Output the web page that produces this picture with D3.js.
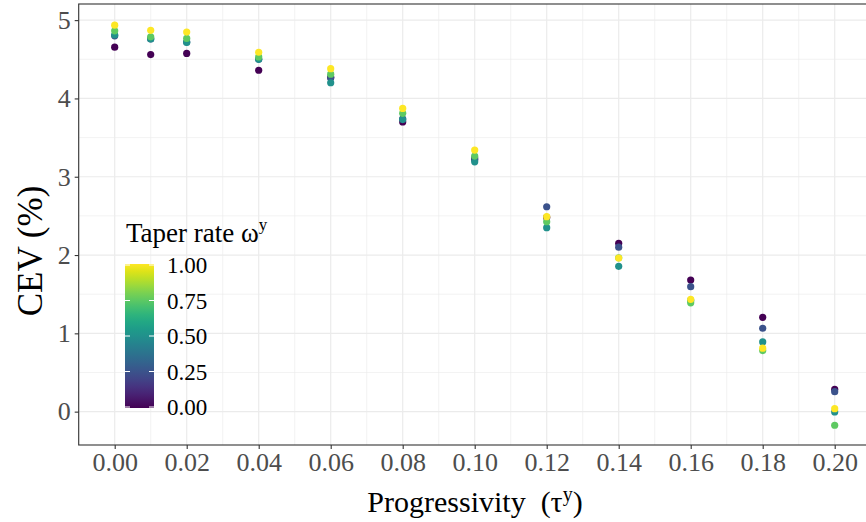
<!DOCTYPE html>
<html>
<head>
<meta charset="utf-8">
<script src="https://cdn.jsdelivr.net/npm/d3@7"></script>
<style>
  html, body { margin: 0; padding: 0; background: #fff; }
  svg { display: block; }
  text { font-family: "Liberation Serif", "DejaVu Serif", serif; }
</style>
</head>
<body>
<svg id="chart" width="866" height="522"></svg>
<script>
// ---- data ----
const tau = [0, 0.01, 0.02, 0.04, 0.06, 0.08, 0.10, 0.12, 0.14, 0.16, 0.18, 0.20];
const omega = [0, 0.25, 0.5, 0.75, 1];
const cevW000 = [4.655, 4.56, 4.575, 4.36, 4.27, 3.70, 3.22, 2.48, 2.15, 1.68, 1.205, 0.286];
const cevW025 = [4.80, 4.76, 4.72, 4.50, 4.26, 3.74, 3.24, 2.617, 2.10, 1.596, 1.065, 0.255];
const cevW050 = [4.81, 4.76, 4.715, 4.50, 4.20, 3.73, 3.19, 2.35, 1.856, 1.42, 0.89, -0.004];
const cevW075 = [4.863, 4.787, 4.766, 4.53, 4.31, 3.81, 3.264, 2.425, 1.965, 1.39, 0.78, -0.174];
const cevW100 = [4.936, 4.87, 4.847, 4.59, 4.38, 3.873, 3.34, 2.49, 1.962, 1.435, 0.81, 0.038];
const seriesValues = [cevW000, cevW025, cevW050, cevW075, cevW100];
const xTicks = [0, 0.02, 0.04, 0.06, 0.08, 0.10, 0.12, 0.14, 0.16, 0.18, 0.20];
const xMinor = [-0.01, 0.01, 0.03, 0.05, 0.07, 0.09, 0.11, 0.13, 0.15, 0.17, 0.19, 0.21];
const yTicks = [0, 1, 2, 3, 4, 5];
const yMinor = [0.5, 1.5, 2.5, 3.5, 4.5];
const legendTicks = [0, 0.25, 0.5, 0.75, 1];

const points = [];
omega.forEach((w, i) => tau.forEach((t, j) => points.push({ t, w, v: seriesValues[i][j] })));

// ---- layout ----
const svg = d3.select("#chart");
const P = { left: 78.7, right: 870.7, top: 4, bottom: 445 };
const x = d3.scaleLinear().domain([-0.01, 0.21]).range([P.left, P.right]);
const y = d3.scaleLinear().domain([-0.426, 5.206]).range([P.bottom, P.top]);
const color = d3.scaleSequential(d3.interpolateViridis).domain([0, 1]);
const grid = "#ebebeb", ink = "#333333", tickText = "#4d4d4d";

const g = svg.append("g");
// minor grid
g.selectAll(".xm").data(xMinor).join("line")
  .attr("x1", d => x(d)).attr("x2", d => x(d)).attr("y1", P.top).attr("y2", P.bottom)
  .attr("stroke", grid).attr("stroke-width", 0.6);
g.selectAll(".ym").data(yMinor).join("line")
  .attr("y1", d => y(d)).attr("y2", d => y(d)).attr("x1", P.left).attr("x2", P.right)
  .attr("stroke", grid).attr("stroke-width", 0.6);
// major grid
g.selectAll(".xM").data(xTicks).join("line")
  .attr("x1", d => x(d)).attr("x2", d => x(d)).attr("y1", P.top).attr("y2", P.bottom)
  .attr("stroke", grid).attr("stroke-width", 1.2);
g.selectAll(".yM").data(yTicks).join("line")
  .attr("y1", d => y(d)).attr("y2", d => y(d)).attr("x1", P.left).attr("x2", P.right)
  .attr("stroke", grid).attr("stroke-width", 1.2);

// points
g.selectAll("circle.pt").data(points).join("circle")
  .attr("class", "pt")
  .attr("cx", d => x(d.t)).attr("cy", d => y(d.v)).attr("r", 3.6)
  .attr("fill", d => color(d.w));

// panel border
g.append("rect").attr("x", P.left).attr("y", P.top)
  .attr("width", P.right - P.left).attr("height", P.bottom - P.top)
  .attr("fill", "none").attr("stroke", ink).attr("stroke-width", 1.1);

// axes
const xAxis = d3.axisBottom(x).tickValues(xTicks).tickFormat(d3.format(".2f")).tickSize(4).tickPadding(4);
const yAxis = d3.axisLeft(y).tickValues(yTicks).tickFormat(d3.format("d")).tickSize(4).tickPadding(4);
const gx = svg.append("g").attr("transform", `translate(0,${P.bottom})`).call(xAxis);
const gy = svg.append("g").attr("transform", `translate(${P.left},0)`).call(yAxis);
[gx, gy].forEach(a => {
  a.select(".domain").remove();
  a.selectAll(".tick line").attr("stroke", ink).attr("stroke-width", 1.1);
  a.selectAll(".tick text").attr("fill", tickText).attr("font-size", 26)
    .style("font-family", "'Liberation Serif', serif");
});
gx.selectAll(".tick text").attr("dy", "0.71em");

// axis titles
const xt = svg.append("text").attr("x", 475).attr("y", 512)
  .attr("text-anchor", "middle").attr("font-size", 30).attr("fill", "#000");
xt.append("tspan").text("Progressivity\u00a0\u00a0(τ");
xt.append("tspan").attr("font-size", 20).attr("dy", -11).text("y");
xt.append("tspan").attr("dy", 11).text(")");

svg.append("text").attr("transform", `translate(42,251) rotate(-90)`)
  .attr("text-anchor", "middle").attr("font-size", 35).attr("fill", "#000").text("CEV (%)");

// legend
const L = { x: 125, w: 29, top: 264, bottom: 408 };
const ly = d3.scaleLinear().domain([0, 1]).range([L.bottom - 1, L.top + 1]);
const defs = svg.append("defs");
const grad = defs.append("linearGradient").attr("id", "vir").attr("x1", 0).attr("x2", 0).attr("y1", 1).attr("y2", 0);
d3.range(0, 1.0001, 0.05).forEach(s => grad.append("stop").attr("offset", s).attr("stop-color", color(s)));
svg.append("rect").attr("x", L.x).attr("y", L.top).attr("width", L.w).attr("height", L.bottom - L.top)
  .attr("fill", "url(#vir)");
const lt = svg.append("g");
legendTicks.forEach(v => {
  lt.append("line").attr("x1", L.x).attr("x2", L.x + 5).attr("y1", ly(v)).attr("y2", ly(v))
    .attr("stroke", "#fff").attr("stroke-width", 1);
  lt.append("line").attr("x1", L.x + L.w - 5).attr("x2", L.x + L.w).attr("y1", ly(v)).attr("y2", ly(v))
    .attr("stroke", "#fff").attr("stroke-width", 1);
});
svg.append("g").selectAll("text").data(legendTicks).join("text")
  .attr("x", 167).attr("y", d => ly(d)).attr("dy", "0.35em")
  .attr("font-size", 23).attr("fill", "#000").text(d3.format(".2f"));
const tt = svg.append("text").attr("x", 126).attr("y", 242).attr("font-size", 27).attr("fill", "#000");
tt.append("tspan").text("Taper rate ω");
tt.append("tspan").attr("font-size", 17).attr("dy", -12).text("y");
</script>
</body>
</html>
